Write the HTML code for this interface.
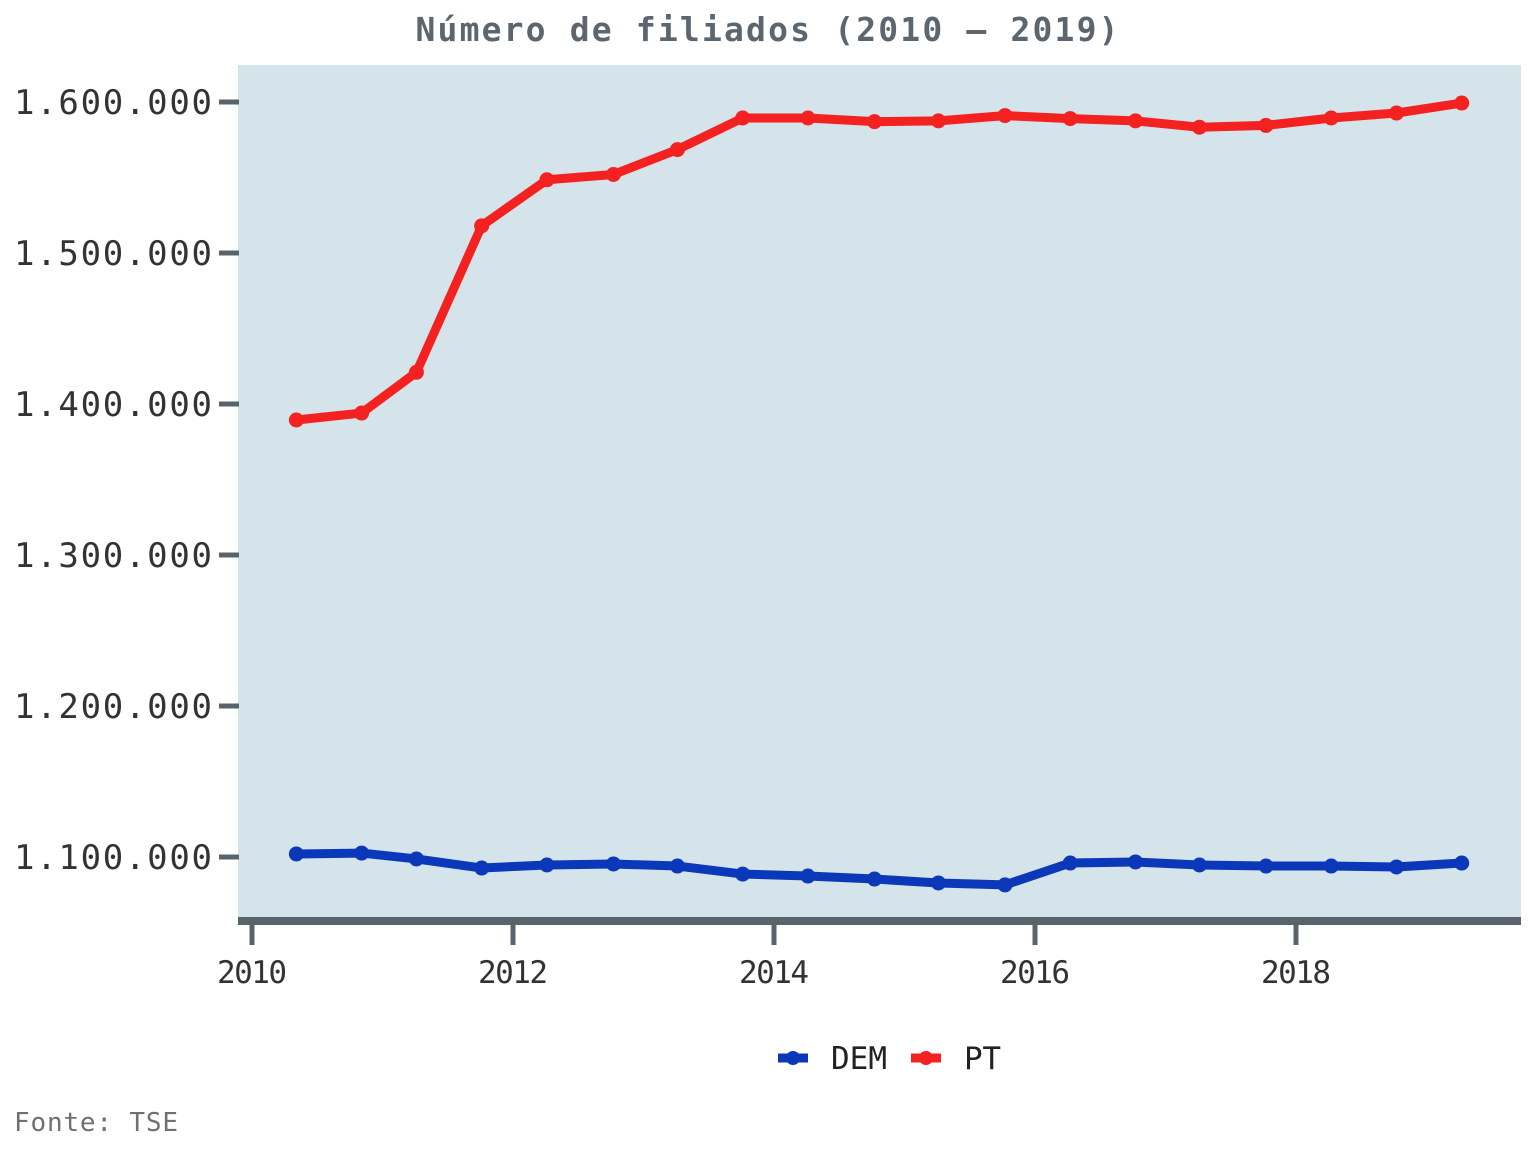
<!DOCTYPE html>
<html><head><meta charset="utf-8">
<style>
html,body{margin:0;padding:0;background:#fff;}
svg{display:block;font-family:"DejaVu Sans Mono","Liberation Mono",monospace;}
</style></head>
<body>
<svg id="chart" width="1536" height="1152" viewBox="0 0 1536 1152">
  <rect x="238" y="65" width="1283" height="856" fill="#d4e4ea"/>
  <text x="767" y="41" text-anchor="middle" font-size="33" font-weight="bold" fill="#5b666e" textLength="703">Número de filiados (2010 – 2019)</text>
  <g id="yaxis"></g>
  <g id="xaxis"></g>
  <g id="series"></g>
  <g>
    <g>
      <line x1="778" y1="1058" x2="808" y2="1058" stroke="#0a38b8" stroke-width="9"/>
      <circle cx="793" cy="1058" r="7" fill="#0a38b8"/>
      <text x="831" y="1069" font-size="31" fill="#222" textLength="56">DEM</text>
    </g>
    <g>
      <line x1="911" y1="1058" x2="941" y2="1058" stroke="#f42121" stroke-width="9"/>
      <circle cx="926" cy="1058" r="7" fill="#f42121"/>
      <text x="964" y="1069" font-size="31" fill="#222" textLength="37">PT</text>
    </g>
  </g>
  <text x="14" y="1131" font-size="26" fill="#6b7177" textLength="164">Fonte: TSE</text>
</svg>
<script>
const dates = [2010.34,2010.84,2011.26,2011.76,2012.26,2012.77,2013.26,2013.76,2014.26,2014.77,2015.26,2015.77,2016.27,2016.77,2017.26,2017.77,2018.27,2018.77,2019.27];
const ptValues = [1389400,1394000,1421000,1518000,1548500,1552000,1568500,1589400,1589400,1587000,1587500,1591000,1589000,1587500,1583300,1584500,1589400,1592700,1599300];
const demValues = [1102000,1102600,1098700,1092700,1094700,1095400,1094000,1088700,1087400,1085400,1082800,1081500,1096000,1096700,1094700,1094000,1094000,1093400,1096000];
const yTicks = [1100000,1200000,1300000,1400000,1500000,1600000];
const yTickLabels = ["1.100.000","1.200.000","1.300.000","1.400.000","1.500.000","1.600.000"];
const xTicks = [2010,2012,2014,2016,2018];
const xTickLabels = ["2010","2012","2014","2016","2018"];

const NS="http://www.w3.org/2000/svg";
const xs = v => 252 + (v-2010)*130.5;
const ys = v => 857 - (v-1100000)/100000*151;
function mk(tag, attrs, parent){const e=document.createElementNS(NS,tag);for(const k in attrs)e.setAttribute(k,attrs[k]);parent.appendChild(e);return e;}

const ya=document.getElementById('yaxis');
yTicks.forEach((t,i)=>{
  const y=ys(t);
  const l=mk('line',{x1:219,x2:239,y1:y,y2:y,stroke:'#59636b','stroke-width':5},ya);
  
  
  const tx=mk('text',{x:212,y:y+12,'text-anchor':'end','font-size':34,fill:'#333',textLength:198},ya);
  tx.textContent=yTickLabels[i];
  
  
});
const xa=document.getElementById('xaxis');
const axl=mk('line',{x1:238,x2:1521,y1:921,y2:921,stroke:'#59636b','stroke-width':8},xa);


xTicks.forEach((t,i)=>{
  const x=xs(t);
  const l=mk('line',{x1:x,x2:x,y1:921,y2:945,stroke:'#59636b','stroke-width':5},xa);
  
  
  const tx=mk('text',{x:x,y:983,'text-anchor':'middle','font-size':31,fill:'#333',textLength:70},xa);
  tx.textContent=xTickLabels[i];
  
  
});
const sg=document.getElementById('series');
function drawSeries(vals,color,name){
  const pts=dates.map((d,i)=>xs(d)+','+ys(vals[i])).join(' ');
  const pl=mk('polyline',{points:pts,fill:'none',stroke:color,'stroke-width':9,'stroke-linejoin':'round','stroke-linecap':'round'},sg);
  
  
  dates.forEach((d,i)=>{
    const c=mk('circle',{cx:xs(d),cy:ys(vals[i]),r:7.5,fill:color},sg);
    
    
  });
}
drawSeries(demValues,'#0a38b8','dem');
drawSeries(ptValues,'#f42121','pt');
</script>
</body></html>
